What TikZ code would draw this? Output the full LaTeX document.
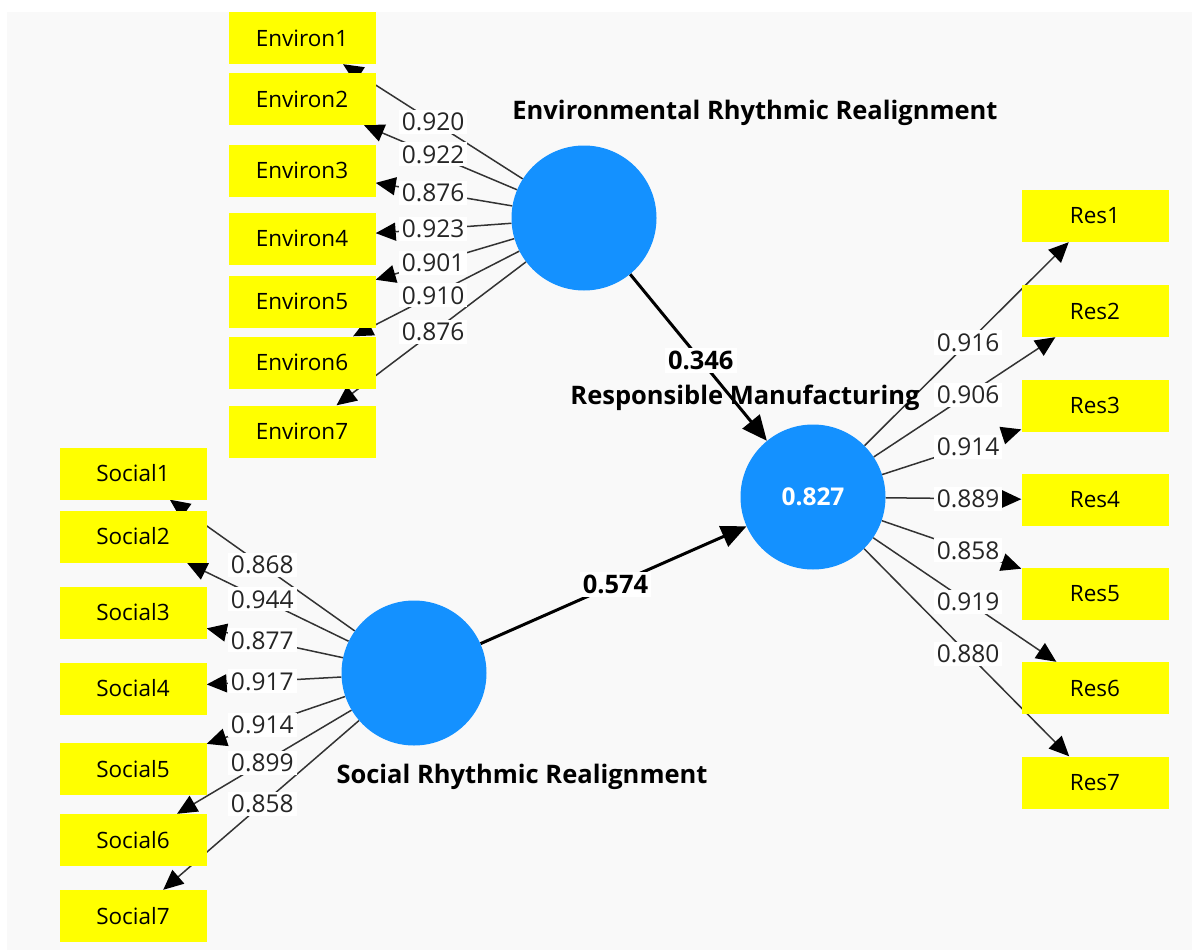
\documentclass[tikz,border=0pt]{standalone}
\usepackage{fontspec}
\setmainfont{Open Sans}
\usetikzlibrary{arrows.meta}
\pgfdeclarelayer{back}
\pgfdeclarelayer{edges}
\pgfsetlayers{back,edges,main}
\definecolor{latblue}{RGB}{20,145,255}
\definecolor{panelgray}{RGB}{249,249,249}
\definecolor{indyellow}{RGB}{255,255,0}
\begin{document}
\begin{tikzpicture}[x=1pt,y=-1pt,
 indbox/.style={fill=indyellow, minimum width=147pt, minimum height=52pt, inner sep=0pt, font=\fontsize{22.5}{26}\selectfont, text=black},
 latent/.style={circle, fill=latblue, minimum size=145pt, inner sep=0pt},
 load/.style={draw=black!80, line width=1.5pt, -{Triangle[length=20pt,width=18pt,color=black]}},
 struct/.style={draw=black, line width=3pt, -{Triangle[length=25pt,width=22pt]}},
 loadlab/.style={fill=white, inner sep=3pt, font=\fontsize{24.5}{28}\selectfont, text=black!85},
 pathlab/.style={fill=white, inner sep=3pt, font=\bfseries\fontsize{25.5}{28}\selectfont, text=black},
 titlelab/.style={font=\bfseries\fontsize{25.5}{28}\selectfont, text=black}
]
\useasboundingbox (0,0) rectangle (1192,950);
\begin{pgfonlayer}{back}
\fill[white] (0,0) rectangle (1192,950);
\fill[panelgray] (7,12) rectangle (1192,950);
\end{pgfonlayer}

% latent variables
\node[latent] (env) at (584,218) {};
\node[latent] (soc) at (414,673) {};
\node[latent] (rm) at (813,497) {\bfseries\fontsize{24.5}{28}\selectfont\color{white}0.827};

% indicators
\node[indbox] (e1) at (302,38) {Environ1};
\node[indbox] (e2) at (302,99) {Environ2};
\node[indbox] (e3) at (302,170.5) {Environ3};
\node[indbox] (e4) at (302,238.5) {Environ4};
\node[indbox] (e5) at (302,301.5) {Environ5};
\node[indbox] (e6) at (302,362.5) {Environ6};
\node[indbox] (e7) at (302,431.5) {Environ7};

\node[indbox] (s1) at (133,473.5) {Social1};
\node[indbox] (s2) at (133,536.5) {Social2};
\node[indbox] (s3) at (133,612.5) {Social3};
\node[indbox] (s4) at (133,688.5) {Social4};
\node[indbox] (s5) at (133,769) {Social5};
\node[indbox] (s6) at (133,840) {Social6};
\node[indbox] (s7) at (133,916) {Social7};

\node[indbox] (r1) at (1095,216) {Res1};
\node[indbox] (r2) at (1095,311) {Res2};
\node[indbox] (r3) at (1095,405.5) {Res3};
\node[indbox] (r4) at (1095,500) {Res4};
\node[indbox] (r5) at (1095,594) {Res5};
\node[indbox] (r6) at (1095,688) {Res6};
\node[indbox] (r7) at (1095,782.5) {Res7};

% connectors
\begin{pgfonlayer}{edges}
\foreach \i in {1,...,7} {
  \draw[load] (env) -- (e\i);
  \draw[load] (soc) -- (s\i);
  \draw[load] (rm) -- (r\i);
}
\draw[struct] (env) -- (rm);
\draw[struct] (soc) -- (rm);
\end{pgfonlayer}

% loading labels
\foreach \i/\v in {1/0.920,2/0.922,3/0.876,4/0.923,5/0.901,6/0.910,7/0.876} {
  \path (env.center) -- (e\i.center) node[loadlab, pos=0.535] {\v};
}
\foreach \i/\v in {1/0.868,2/0.944,3/0.877,4/0.917,5/0.914,6/0.899,7/0.858} {
  \path (soc.center) -- (s\i.center) node[loadlab, pos=0.54] {\v};
}
\foreach \i/\v in {1/0.916,2/0.906,3/0.914,4/0.889,5/0.858,6/0.919,7/0.880} {
  \path (rm.center) -- (r\i.center) node[loadlab, pos=0.55] {\v};
}
\path (env.center) -- (rm.center) node[pathlab, pos=0.51] {0.346};
\path (soc.center) -- (rm.center) node[pathlab, pos=0.505] {0.574};

% titles
\node[titlelab] (envt) at (755,113) {Environmental Rhythmic Realignment};
\node[titlelab] (rmt) at (745,398) {Responsible Manufacturing};
\node[titlelab] (soct) at (522,777) {Social Rhythmic Realignment};
\end{tikzpicture}
\end{document}
